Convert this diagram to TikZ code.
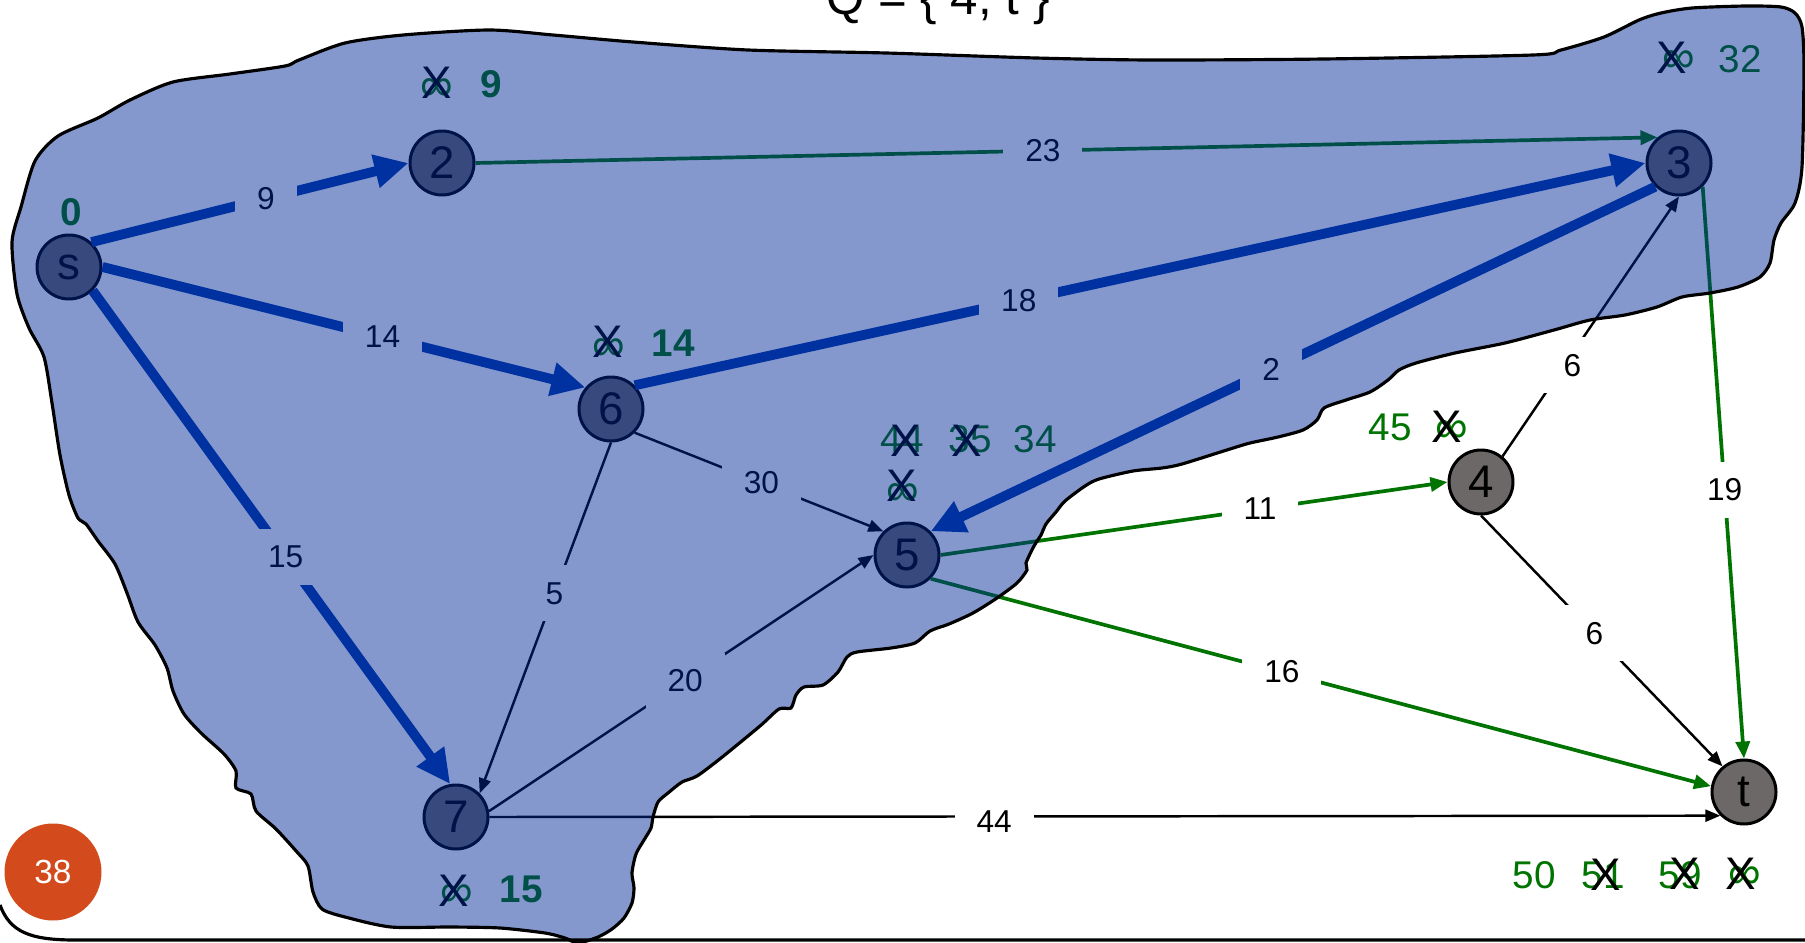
\documentclass[tikz,border=0pt]{standalone}
\usepackage{fontspec}
\setmainfont{Liberation Sans}
\usetikzlibrary{arrows.meta}
\definecolor{blobblue}{RGB}{0,40,152}
\definecolor{heavyblue}{RGB}{0,58,168}
\definecolor{pathgreen}{RGB}{0,115,0}
\definecolor{nodegray}{RGB}{108,104,104}
\definecolor{slideorange}{RGB}{211,75,29}
\tikzset{vertex/.style={circle,draw=black,line width=0.85pt,fill=nodegray,minimum size=6.4mm,inner sep=0pt,font=\fontsize{13}{13}\selectfont},wt/.style={fill=white,inner xsep=2.2mm,inner ysep=0pt,minimum height=5.6mm,font=\fontsize{9}{9}\selectfont,text=black},heavy/.style={draw=heavyblue,line width=2.8pt,-{Triangle[length=3.4mm,width=3.2mm]}},plain/.style={draw=black,line width=0.7pt,-{Triangle[length=1.5mm,width=1.2mm]}},greenline/.style={draw=pathgreen,line width=1.05pt,-{Triangle[length=1.7mm,width=1.4mm]}},dist/.style={text=pathgreen,font=\fontsize{11}{11}\selectfont,inner sep=0pt,anchor=base},bolddist/.style={dist,font=\fontsize{11}{11}\selectfont\bfseries},inf/.style={text=pathgreen,font=\fontsize{13}{13}\selectfont,inner sep=0pt},cross/.style={text=black,font=\fontsize{13}{13}\selectfont,inner sep=0pt}}

\begin{document}
\begin{tikzpicture}[x=0.1mm,y=-0.1mm]
\useasboundingbox (0,0) rectangle (1805,943);
\node[vertex] (s) at (69,267) {s};
\node[vertex] (n2) at (442,163) {2};
\node[vertex] (n3) at (1679,163) {3};
\node[vertex] (n6) at (611,409) {6};
\node[vertex] (n5) at (907,555) {5};
\node[vertex] (n4) at (1481,482) {4};
\node[vertex] (n7) at (456,817) {7};
\node[vertex] (t) at (1744,792) {t};
\draw[heavy] (s.48) -- node[wt,pos=.55]{9} (n2.west);
\draw[heavy] (s.east) -- node[wt,pos=.58]{14} (n6.140);
\draw[heavy] (s.-45) -- node[wt,pos=.54]{15} (n7.100);
\draw[heavy] (n6.45) -- node[wt,pos=.38]{18} (n3.west);
\draw[heavy] (n3.225) -- node[wt,pos=.53]{2} (n5.45);
\draw[greenline] (n2.east) -- node[wt,pos=.48]{23} (n3.130);
\draw[plain] (n6.-45) -- node[wt,pos=.51]{30} (n5.135);
\draw[plain] (n6.south) -- node[wt,pos=.43]{5} (n7.45);
\draw[plain] (n7.10) -- node[wt,pos=.51]{20} (n5.west);
\draw[plain] (n7.east) -- node[wt,pos=.41,yshift=-0.5mm]{44} (t.south west);
\draw[greenline] (n5.east) -- node[wt,pos=.63]{11} (n4.west);
\draw[greenline] (n5.-45) -- node[wt,pos=.45]{16} (t.170);
\draw[greenline] (n3.-45) -- node[wt,pos=.53]{19} (t.north);
\draw[plain] (n4.50) -- node[wt,pos=.35,xshift=0.8mm]{6} (n3.south);
\draw[plain] (n4.south) -- node[wt,pos=.47]{6} (t.130);
\node[bolddist] (d0) at (71,225) {0};
\node[inf] (i2) at (437,90) {∞}; \node[cross] (x2) at (437,83) {X}; \node[bolddist] (d2) at (491,97) {9};
\node[inf] (i3) at (1679,62) {∞}; \node[cross] (x3) at (1672,58) {X}; \node[dist] (d3) at (1740,73) {32};
\node[inf] (i6) at (609,350) {∞}; \node[cross] (x6) at (608,342) {X}; \node[bolddist] (d6) at (673,356) {14};
\node[inf] (i7) at (457,896) {∞}; \node[cross] (x7) at (454,891) {X}; \node[bolddist] (d7) at (521,902) {15};
\node[dist] (d5a) at (902,452) {44}; \node[cross] (x5a) at (906,441) {X};
\node[dist] (d5b) at (970,452) {35}; \node[cross] (x5b) at (967,441) {X};
\node[dist] (d5c) at (1035,452) {34};
\node[inf] (i5) at (903,495) {∞}; \node[cross] (x5) at (902,486) {X};
\node[dist] (d4) at (1390,440) {45}; \node[inf] (i4) at (1452,432) {∞}; \node[cross] (x4) at (1447,427) {X};
\node[dist] (dta) at (1534,888) {50};
\node[dist] (dtb) at (1603,888) {51}; \node[cross] (xtb) at (1606,875) {X};
\node[dist] (dtc) at (1680,888) {59}; \node[cross] (xtc) at (1685,874) {X};
\node[inf] (it) at (1745,878) {∞}; \node[cross] (xt) at (1741,874) {X};
\draw[line width=0.9pt,fill=blobblue,fill opacity=0.48] plot[smooth cycle,tension=0.45] coordinates {(12,242) (21,207) (35,161) (58,136) (98,118) (130,100) (173,82) (230,74) (285,66) (299,60) (345,43) (403,35) (489,30) (553,35) (633,42) (748,50) (886,53) (1036,58) (1151,60) (1324,59) (1533,55) (1561,50) (1604,37) (1639,20) (1661,13) (1692,8) (1746,6) (1781,7) (1795,13) (1802,27) (1804,67) (1802,167) (1795,203) (1781,223) (1774,240) (1770,263) (1760,277) (1738,287) (1710,293) (1682,297) (1657,307) (1625,315) (1590,320) (1554,330) (1505,343) (1455,353) (1416,363) (1399,370) (1388,380) (1370,392) (1346,400) (1324,408) (1317,420) (1303,430) (1278,437) (1250,443) (1230,449) (1182,464) (1162,468) (1133,471) (1099,479) (1085,486) (1065,501) (1056,512) (1046,524) (1041,535) (1034,546) (1026,563) (1027,570) (1017,583) (997,598) (973,613) (949,624) (930,631) (915,643) (891,648) (857,652) (847,657) (838,672) (823,685) (804,687) (796,695) (791,708) (779,709) (760,726) (721,758) (697,776) (682,782) (668,793) (658,802) (653,817) (651,828) (644,840) (636,854) (632,873) (634,888) (632,903) (624,918) (612,929) (598,937) (578,943) (565,938) (545,933) (500,928) (450,927) (391,927) (345,917) (322,909) (313,892) (308,866) (297,852) (276,829) (256,811) (251,794) (236,788) (236,771) (224,754) (201,733) (184,714) (173,691) (167,668) (155,645) (138,622) (127,593) (115,564) (98,541) (86,524) (78,518) (69,495) (60,455) (52,403) (44,357) (29,328) (17,294)};
\node[circle,fill=slideorange,minimum size=9.7mm,inner sep=0pt,text=white,font=\fontsize{9.5}{9.5}\selectfont] (slidenum) at (53,872) {38};
\draw[line width=0.9pt] (0,905) .. controls (10,932) and (30,940) .. (75,940) -- (1805,940);
\node[anchor=base,font=\fontsize{14}{14}\selectfont] (qset) at (938,14) {Q = \{ 4, t \}};
\end{tikzpicture}
\end{document}
